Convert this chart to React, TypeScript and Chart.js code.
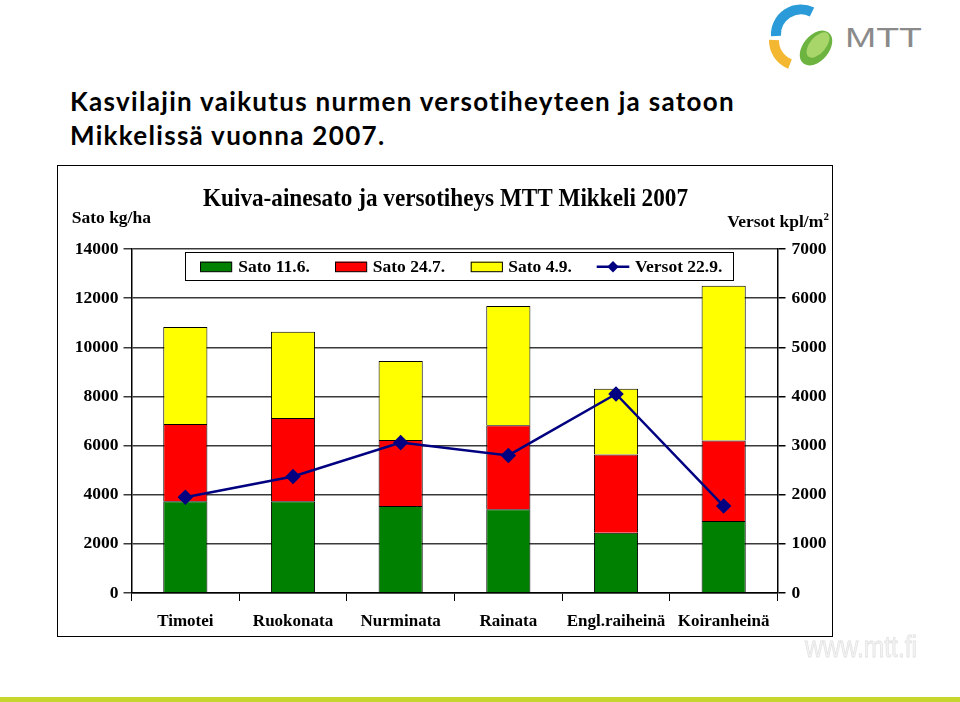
import React, { useEffect, useRef } from "react";
import { Chart, registerables } from "chart.js";
Chart.register(...registerables);

const categories = ["Timotei", "Ruokonata", "Nurminata", "Rainata", "Engl.raiheinä", "Koiranheinä"];
const sato116 = [3730, 3730, 3540, 3410, 2450, 2930];
const sato247 = [3150, 3390, 2690, 3420, 3190, 3280];
const sato49 = [3950, 3510, 3210, 4850, 2670, 6290];
const versot229 = [1950, 2370, 3060, 2800, 4050, 1770];
const seriesLabels = ["Sato 11.6.", "Sato 24.7.", "Sato 4.9.", "Versot 22.9."];
const chartTitle = "Kuiva-ainesato ja versotiheys MTT Mikkeli 2007";
const leftAxisTitle = "Sato kg/ha";
const rightAxisTitle = "Versot kpl/m";
const pageTitle1 = "Kasvilajin vaikutus nurmen versotiheyteen ja satoon";
const pageTitle2 = "Mikkelissä vuonna 2007.";

const SERIF = "'Liberation Serif', 'Times New Roman', serif";

const overlayPlugin = {
  id: "overlay",
  afterDraw(chart: any) {
    const ctx = chart.ctx;
    ctx.save();
    ctx.fillStyle = "#000";
    // chart title (slightly taller than wide, as in the reference)
    ctx.save();
    ctx.translate(387.5, 40);
    ctx.scale(1, 1.06);
    ctx.font = `bold 23.2px ${SERIF}`;
    ctx.textAlign = "center";
    ctx.textBaseline = "alphabetic";
    ctx.fillText(chartTitle, 0, 0);
    ctx.restore();
    // axis titles
    ctx.font = `bold 17.5px ${SERIF}`;
    ctx.textAlign = "left";
    ctx.textBaseline = "alphabetic";
    ctx.fillText(leftAxisTitle, 13.7, 57);
    ctx.textAlign = "right";
    ctx.fillText(rightAxisTitle, 765.3, 61);
    ctx.font = `bold 11px ${SERIF}`;
    ctx.textAlign = "left";
    ctx.fillText("2", 765.5, 54);

    // legend box
    ctx.fillStyle = "#fff";
    ctx.fillRect(127, 86, 548, 28);
    ctx.strokeStyle = "#000";
    ctx.lineWidth = 1;
    ctx.strokeRect(127.5, 86.5, 548, 28);
    const ds = chart.data.datasets;
    const swX = [142, 277, 412.7];
    const txX = [180.3, 314.7, 450.3];
    ctx.font = `bold 17.5px ${SERIF}`;
    ctx.textAlign = "left";
    ctx.textBaseline = "alphabetic";
    for (let i = 0; i < 3; i++) {
      ctx.fillStyle = ds[i].backgroundColor;
      ctx.fillRect(swX[i], 95.7, 31.7, 10);
      ctx.strokeStyle = "#000";
      ctx.lineWidth = 1;
      ctx.strokeRect(swX[i] + 0.5, 96.2, 31.2, 9.5);
      ctx.fillStyle = "#000";
      ctx.fillText(ds[i].label, txX[i], 106.3);
    }
    // line legend
    ctx.strokeStyle = ds[3].borderColor;
    ctx.lineWidth = 2.5;
    ctx.beginPath();
    ctx.moveTo(538.7, 100.7);
    ctx.lineTo(571.3, 100.7);
    ctx.stroke();
    ctx.fillStyle = ds[3].borderColor;
    ctx.beginPath();
    ctx.moveTo(555, 95);
    ctx.lineTo(560.7, 100.7);
    ctx.lineTo(555, 106.4);
    ctx.lineTo(549.3, 100.7);
    ctx.closePath();
    ctx.fill();
    ctx.fillStyle = "#000";
    ctx.fillText(ds[3].label, 577, 106.3);
    ctx.restore();
  },
};

export default function App() {
  const ref = useRef<HTMLCanvasElement>(null);
  useEffect(() => {
    const tickFont = { family: SERIF, size: 17.5, weight: "bold" as const };
    const plain = (v: any) => String(v);
    const chart = new Chart(ref.current!, {
      type: "bar",
      data: {
        labels: categories,
        datasets: [
          { label: seriesLabels[0], data: sato116, backgroundColor: "#008000", borderColor: "#000", borderWidth: 1, yAxisID: "y", order: 1 },
          { label: seriesLabels[1], data: sato247, backgroundColor: "#FF0000", borderColor: "#000", borderWidth: 1, yAxisID: "y", order: 1 },
          { label: seriesLabels[2], data: sato49, backgroundColor: "#FFFF00", borderColor: "#000", borderWidth: 1, yAxisID: "y", order: 1 },
          { type: "line", label: seriesLabels[3], data: versot229, yAxisID: "y1", borderColor: "#000080", backgroundColor: "#000080", borderWidth: 2.5, pointStyle: "rectRot", pointRadius: 6, pointBackgroundColor: "#000080", pointBorderColor: "#000080", tension: 0, order: 0 } as any,
        ],
      },
      options: {
        responsive: false,
        animation: false,
        devicePixelRatio: 1,
        layout: { padding: { top: 83, left: 0, right: 0, bottom: 0 } },
        plugins: { legend: { display: false }, title: { display: false }, tooltip: { enabled: false } },
        datasets: { bar: { barPercentage: 0.41, categoryPercentage: 1 } },
        scales: {
          x: {
            stacked: true,
            grid: { display: true, drawOnChartArea: false, tickLength: 8, color: "#000", lineWidth: 1, offset: true },
            border: { display: true, color: "#000", width: 1.5 },
            ticks: { font: { family: SERIF, size: 17, weight: "bold" }, color: "#000", padding: 10, autoSkip: false, maxRotation: 0 },
            afterFit: (s: any) => { s.height = 44; },
          },
          y: {
            stacked: true,
            position: "left",
            min: 0,
            max: 14000,
            grid: { color: "#3a3a3a", lineWidth: 1.5, tickLength: 8 },
            border: { display: true, color: "#000", width: 1.5 },
            ticks: { stepSize: 2000, font: tickFont, color: "#000", padding: 5, callback: plain },
            afterFit: (s: any) => { s.width = 73.5; },
          },
          y1: {
            position: "right",
            min: 0,
            max: 7000,
            grid: { drawOnChartArea: false, color: "#000", lineWidth: 1.5, tickLength: 8 },
            border: { display: true, color: "#000", width: 1.5 },
            ticks: { stepSize: 1000, font: tickFont, color: "#000", padding: 6, callback: plain },
            afterFit: (s: any) => { s.width = 55.5; },
          },
        },
      },
      plugins: [overlayPlugin],
    });
    return () => chart.destroy();
  }, []);

  return (
    <div style={{ position: "absolute", left: 0, top: 0, width: 960, height: 702, background: "#fff", overflow: "hidden" }}>
      <div style={{ position: "absolute", left: 70, top: 84, fontFamily: "Lato, 'DejaVu Sans', sans-serif", fontWeight: 700, fontSize: 26, letterSpacing: "1.3px", lineHeight: "34px", color: "#000", whiteSpace: "pre" }}>
        {pageTitle1 + "\n" + pageTitle2}
      </div>
      <svg style={{ position: "absolute", left: 760, top: 0 }} width={200} height={80}>
        <path d="M 16 36 A 25 25 0 0 1 52 12" stroke="#2a9bd8" strokeWidth={10} fill="none" />
        <path d="M 30 64 A 25 25 0 0 1 14 40" stroke="#f4b731" strokeWidth={10} fill="none" />
        <ellipse cx={56} cy={48} rx={20} ry={13} transform="rotate(-50 56 48)" fill="#6cb33f" />
        <ellipse cx={58} cy={45} rx={15} ry={8} transform="rotate(-50 58 45)" fill="#a9d66b" />
        <text x={85} y={47} fontFamily="'Liberation Sans', sans-serif" fontSize={27} fill="#8a8a8a" textLength={77} lengthAdjust="spacingAndGlyphs">MTT</text>
      </svg>
      <div style={{ position: "absolute", left: 57, top: 165, width: 776, height: 472, border: "1.5px solid #000", boxSizing: "border-box" }} />
      <canvas ref={ref} width={775} height={471} style={{ position: "absolute", left: 58, top: 166, width: 775, height: 471 }} />
      <svg style={{ position: "absolute", left: 800, top: 628 }} width={125} height={34}>
        <text x={5} y={29} fontFamily="'Liberation Sans', sans-serif" fontSize={30} fill="#f4f4f4" stroke="#e2e2e2" strokeWidth={0.8} textLength={112} lengthAdjust="spacingAndGlyphs">www.mtt.fi</text>
      </svg>
      <div style={{ position: "absolute", left: 0, top: 697, width: 960, height: 5, background: "#c6d62f" }} />
    </div>
  );
}
